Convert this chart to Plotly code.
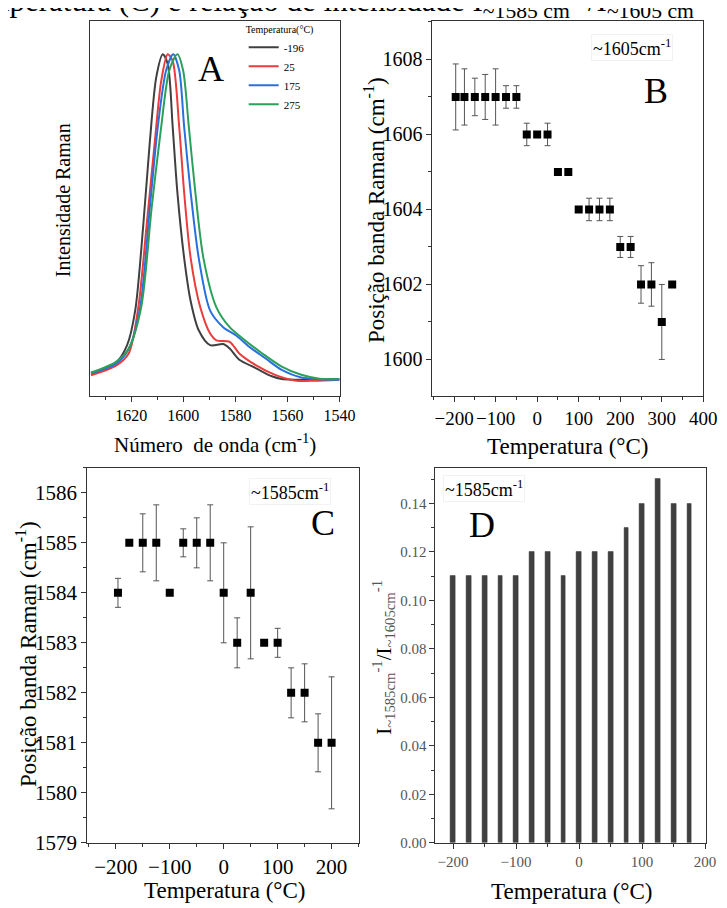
import plotly.graph_objects as go

FONT = "Liberation Serif, Times New Roman, serif"
W, H = 727, 908

# ---------------- Panel A: Raman spectra ----------------
wn_m196 = [1635.5, 1626, 1621.6, 1618.5, 1615.4, 1612.9, 1610.4, 1607.9, 1606, 1604.1, 1602.3,
           1599.7, 1597.2, 1594.1, 1589.7, 1584.7, 1582.2, 1578.5, 1572.2, 1566, 1562.2, 1549.7, 1540]
int_m196 = [0.059, 0.087, 0.135, 0.227, 0.455, 0.675, 0.85, 0.911, 0.885, 0.718, 0.543,
            0.368, 0.253, 0.175, 0.135, 0.138, 0.126, 0.096, 0.074, 0.052, 0.045, 0.043, 0.045]

wn_25 = [1635.5, 1626, 1621, 1617.3, 1614.1, 1611, 1608.5, 1606, 1604.1, 1601.6, 1599.7,
         1597.2, 1593.5, 1589.7, 1587.3, 1582.2, 1578.5, 1572.2, 1564.7, 1557.2, 1549.7, 1540]
int_25 = [0.055, 0.08, 0.113, 0.236, 0.455, 0.675, 0.84, 0.911, 0.893, 0.718, 0.543,
          0.368, 0.236, 0.166, 0.148, 0.144, 0.113, 0.082, 0.056, 0.041, 0.04, 0.043]

wn_175 = [1635.5, 1626, 1621, 1616.6, 1612.9, 1609.8, 1606.6, 1603.9, 1601.6, 1599.7, 1597.2,
          1594.1, 1589.7, 1584.7, 1579.7, 1574.7, 1568.5, 1562.2, 1554.7, 1540]
int_175 = [0.06, 0.085, 0.125, 0.236, 0.5, 0.718, 0.868, 0.911, 0.868, 0.718, 0.543,
           0.368, 0.227, 0.183, 0.161, 0.131, 0.1, 0.069, 0.049, 0.043]

wn_275 = [1635.5, 1626, 1621, 1616.2, 1612.2, 1608.5, 1605.4, 1602.3, 1600.1, 1597.9, 1595.4,
          1592.3, 1587.3, 1582.2, 1577.2, 1569.7, 1562.2, 1554.7, 1547.2, 1540]
int_275 = [0.062, 0.09, 0.126, 0.236, 0.5, 0.718, 0.868, 0.911, 0.868, 0.718, 0.543,
           0.368, 0.236, 0.183, 0.153, 0.113, 0.078, 0.056, 0.045, 0.045]

spectra_labels = ["-196", "25", "175", "275"]
spectra_colors = ["#404040", "#ec3b3b", "#2a6fe0", "#2aa05a"]

# ---------------- Panel B: ~1605 band position ----------------
temp_b = [-196, -175, -150, -125, -100, -75, -50, -25, 0, 25, 50, 75, 100, 125, 150, 175,
          200, 225, 250, 275, 300, 325]
pos_b = [1607, 1607, 1607, 1607, 1607, 1607, 1607, 1606, 1606, 1606, 1605, 1605, 1604, 1604,
         1604, 1604, 1603, 1603, 1602, 1602, 1601, 1602]
err_b = [0.88, 0.75, 0.5, 0.6, 0.75, 0.3, 0.3, 0.3, 0.0, 0.3, 0.0, 0.0, 0.0, 0.3,
         0.3, 0.3, 0.28, 0.28, 0.5, 0.58, 1.0, 0.0]

# ---------------- Panel C: ~1585 band position ----------------
temp_c = [-196, -175, -150, -125, -100, -75, -50, -25, 0, 25, 50, 75, 100, 125, 150, 175, 200]
pos_c = [1584, 1585, 1585, 1585, 1584, 1585, 1585, 1585, 1584, 1583, 1584, 1583, 1583, 1582,
         1582, 1581, 1581]
err_c = [0.29, 0.0, 0.58, 0.76, 0.0, 0.28, 0.5, 0.76, 1.0, 0.5, 1.32, 0.0, 0.29, 0.5,
         0.58, 0.58, 1.32]

# ---------------- Panel D: intensity ratio ----------------
temp_d = [-200, -175, -150, -125, -100, -75, -50, -25, 0, 25, 50, 75, 100, 125, 150, 175]
ratio_d = [0.11, 0.11, 0.11, 0.11, 0.11, 0.12, 0.12, 0.11, 0.12, 0.12, 0.12, 0.13, 0.14,
           0.15, 0.14, 0.14]


def fx(px):
    return px / W


def fy(py):
    return 1 - py / H


fig = go.Figure()

for wn, inten, lab, col in zip([wn_m196, wn_25, wn_175, wn_275],
                               [int_m196, int_25, int_175, int_275],
                               spectra_labels, spectra_colors):
    fig.add_trace(go.Scatter(x=wn, y=inten, mode="lines", name=lab,
                             line=dict(color=col, width=2, shape="spline", smoothing=0.8),
                             xaxis="x", yaxis="y", showlegend=True))

fig.add_trace(go.Scatter(x=temp_b, y=pos_b, mode="markers",
                         marker=dict(symbol="square", size=8, color="black"),
                         error_y=dict(type="data", array=err_b, visible=True, color="#555555",
                                      thickness=1, width=3),
                         xaxis="x2", yaxis="y2", showlegend=False))

fig.add_trace(go.Scatter(x=temp_c, y=pos_c, mode="markers",
                         marker=dict(symbol="square", size=8, color="black"),
                         error_y=dict(type="data", array=err_c, visible=True, color="#555555",
                                      thickness=1, width=3),
                         xaxis="x3", yaxis="y3", showlegend=False))

fig.add_trace(go.Bar(x=temp_d, y=ratio_d, width=7.5,
                     marker=dict(color="#404040", line=dict(color="#333333", width=0.5)),
                     xaxis="x4", yaxis="y4", showlegend=False))

axis_common = dict(showline=True, linecolor="#333333", linewidth=1, mirror=True,
                   showgrid=False, zeroline=False, ticks="outside", ticklen=5,
                   tickcolor="#333333", tickangle=0)

top_dom = [fy(393), fy(13)]
bot_dom = [fy(846), fy(466)]

fig.update_layout(
    width=W, height=H,
    margin=dict(l=0, r=0, t=0, b=0),
    paper_bgcolor="white", plot_bgcolor="white",
    font=dict(family=FONT, color="black"),
    xaxis=dict(axis_common, domain=[fx(84), fx(339)], range=[1635.8, 1540],
               tickvals=[1620, 1600, 1580, 1560, 1540], tickfont=dict(size=16),
               minor=dict(ticks="outside", ticklen=3, dtick=10, tick0=1540, tickcolor="#333333"),
               anchor="y"),
    yaxis=dict(axis_common, domain=top_dom, range=[0, 1], showticklabels=False, ticks="",
               anchor="x"),
    xaxis2=dict(axis_common, domain=[fx(434), fx(711)], range=[-252, 400],
                tickvals=[-200, -100, 0, 100, 200, 300, 400], tickfont=dict(size=19),
                minor=dict(ticks="outside", ticklen=3, dtick=50, tick0=0, tickcolor="#333333"),
                anchor="y2"),
    yaxis2=dict(axis_common, domain=top_dom, range=[1599.03, 1609.03],
                tickvals=[1600, 1602, 1604, 1606, 1608], tickfont=dict(size=20),
                minor=dict(ticks="outside", ticklen=3, dtick=1, tickcolor="#333333"),
                anchor="x2"),
    xaxis3=dict(axis_common, domain=[fx(81), fx(359)], range=[-253, 251],
                tickvals=[-200, -100, 0, 100, 200], tickfont=dict(size=21),
                minor=dict(ticks="outside", ticklen=3, dtick=50, tick0=0, tickcolor="#333333"),
                anchor="y3"),
    yaxis3=dict(axis_common, domain=bot_dom, range=[1579, 1586.5],
                dtick=1, tickfont=dict(size=21),
                minor=dict(ticks="outside", ticklen=3, dtick=0.5, tickcolor="#333333"),
                anchor="x3"),
    xaxis4=dict(axis_common, domain=[fx(437), fx(714)], range=[-228, 202],
                tickvals=[-200, -100, 0, 100, 200], tickfont=dict(size=15, color="#555555"),
                minor=dict(ticks="outside", ticklen=3, dtick=50, tick0=0, tickcolor="#333333"),
                anchor="y4"),
    yaxis4=dict(axis_common, domain=bot_dom, range=[0, 0.1547],
                dtick=0.02, tickformat=".2f", tickfont=dict(size=15, color="#555555"),
                minor=dict(ticks="outside", ticklen=3, dtick=0.01, tickcolor="#333333"),
                anchor="x4"),
    bargap=0,
    legend=dict(x=fx(241), y=fy(12), xanchor="left", yanchor="top",
                bgcolor="rgba(255,255,255,0)", borderwidth=0,
                title=dict(text="Temperatura(°C)", font=dict(size=10, family=FONT)),
                font=dict(size=11, family=FONT), tracegroupgap=0, itemwidth=30),
)

ann = []


def add(text, x, y, size, angle=0, xanchor="center", yanchor="middle", color="black", **kw):
    ann.append(dict(text=text, x=fx(x), y=fy(y), xref="paper", yref="paper",
                    showarrow=False, textangle=angle, xanchor=xanchor, yanchor=yanchor,
                    font=dict(size=size, family=FONT, color=color), **kw))


# top caption (cropped at the top edge of the picture)
add("temperatura (C) e relação de intensidade I<sub>~1585 cm</sub><sup>-1</sup>/I<sub>~1605 cm</sub><sup>-1</sup>",
    722, -7, 31, xanchor="right", yanchor="middle")

# panel A
add("A", 208, 62, 36)
add("Intensidade Raman", 57, 195, 20, angle=-90)
add("Número  de onda (cm<sup>-1</sup>)", 212, 441, 21)

# panel B
add("B", 663, 84, 36)
add("~1605cm<sup>-1</sup>", 638, 40, 18, bordercolor="#f2f2f2", borderwidth=1)
add("Posição banda Raman (cm<sup>-1</sup>)", 375, 205, 23, angle=-90)
add("Temperatura (°C)", 572, 444, 23)

# panel C
add("C", 322, 522, 36)
add("~1585cm<sup>-1</sup>", 288, 490, 18, bordercolor="#f2f2f2", borderwidth=1)
add("Posição banda Raman (cm<sup>-1</sup>)", 19, 655, 23, angle=-90)
add("Temperatura (°C)", 221, 894, 23)

# panel D
add("D", 485, 524, 36)
add("~1585cm<sup>-1</sup>", 487, 487, 18, bordercolor="#f2f2f2", borderwidth=1)
add("I<span style='color:#555555'><sub>~1585cm</sub><sup>-1</sup></span>/I<span style='color:#555555'><sub>~1605cm</sub><sup>-1</sup></span>",
    384, 658, 21, angle=-90)
add("Temperatura (°C)", 576, 895, 23)

fig.update_layout(annotations=ann)

fig.write_html("out.html")
